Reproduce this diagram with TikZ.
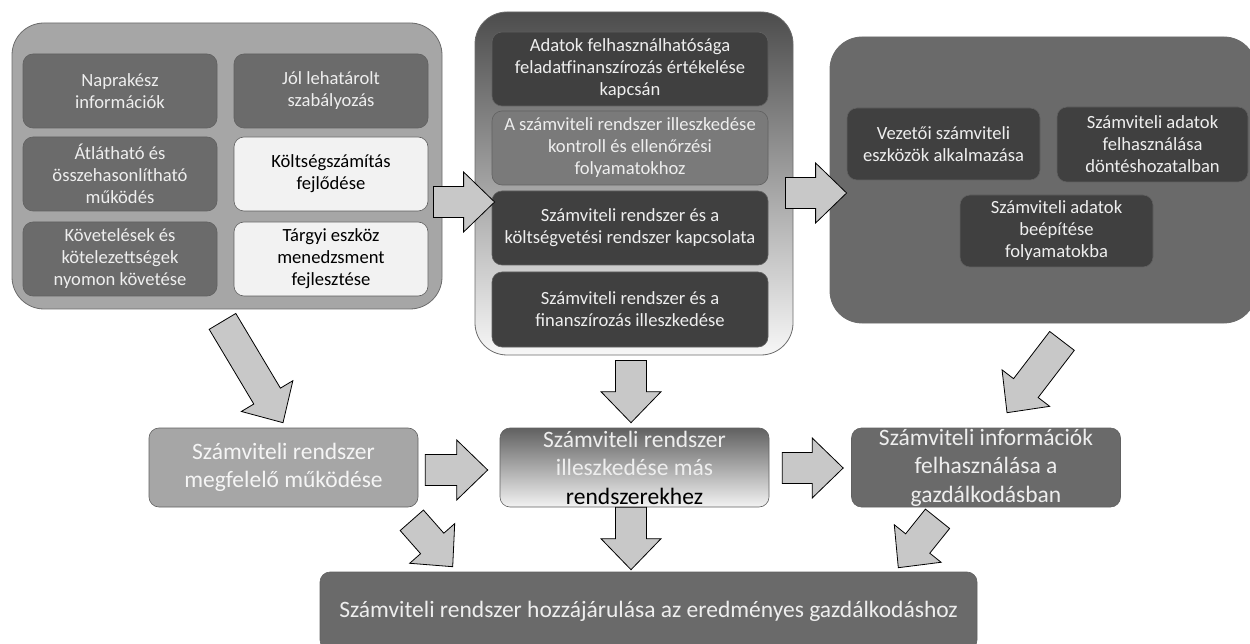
\documentclass[tikz,border=0pt]{standalone}
\usepackage{fontspec}
\setmainfont{Carlito}
\usetikzlibrary{calc}
\definecolor{grpLight}{HTML}{A6A6A6}
\definecolor{grpDark}{HTML}{6A6A6A}
\definecolor{boxMid}{HTML}{6B6B6B}
\definecolor{boxDark}{HTML}{404040}
\definecolor{boxGrey}{HTML}{7A7A7A}
\definecolor{boxPale}{HTML}{F2F2F2}
\definecolor{txtLight}{HTML}{EEEEEE}
\definecolor{arrFill}{HTML}{C8C8C8}
% vastag blokknyil: farok -> hegy
\newcommand{\bigarrow}[2]{%
  \draw[bigarr] let \p1=(#1), \p2=(#2), \p3=($(\p2)!31pt!(\p1)$) in
    ($(\p1)!15.5pt!90:(\p2)$) -- ($(\p3)!15.5pt!90:(\p2)$) -- ($(\p3)!30pt!90:(\p2)$)
    -- (\p2) -- ($(\p3)!30pt!-90:(\p2)$) -- ($(\p3)!15.5pt!-90:(\p2)$)
    -- ($(\p1)!15.5pt!-90:(\p2)$) -- cycle;}
\begin{document}
\begin{tikzpicture}[x=1pt, y=-1pt,
  grp/.style={draw=black!58, line width=0.8pt, rounded corners=32pt, inner sep=0pt},
  box/.style={draw=black!62, line width=0.6pt, rounded corners=10pt, inner sep=0pt,
    minimum width=194pt, minimum height=74pt, align=center, text=txtLight,
    font=\fontsize{18.6}{22}\selectfont},
  rowbox/.style={box, minimum width=269pt, minimum height=79pt,
    font=\fontsize{23.5}{28.5}\selectfont},
  bigarr/.style={draw=black, line width=0.8pt, fill=arrFill, line join=miter}]
\useasboundingbox (0,0) rectangle (1250,644);
% felso csoportok
\node[grp, fill=grpLight, minimum width=430pt, minimum height=286pt] (grpL) at (227,166) {};
\node[grp, top color=black!70, bottom color=white!97!black, minimum width=318pt, minimum height=343pt] (grpM) at (634,183.5) {};
\node[grp, fill=grpDark, minimum width=426pt, minimum height=286pt] (grpR) at (1043,180) {};
% bal csoport
\node[box, fill=boxMid] (napra) at (120,91) {Naprakész\\információk};
\node[box, fill=boxMid] (jol) at (331,91) {Jól lehatárolt\\szabályozás};
\node[box, fill=boxMid] (atlat) at (120,174) {Átlátható és\\összehasonlítható\\működés};
\node[box, fill=boxPale, text=black] (kolt) at (331,174) {Költségszámítás\\fejlődése};
\node[box, fill=boxMid] (kovet) at (120,259) {Követelések és\\kötelezettségek\\nyomon követése};
\node[box, fill=boxPale, text=black] (targy) at (331,259) {Tárgyi eszköz\\menedzsment\\fejlesztése};
% kozepso csoport
\node[box, fill=boxDark, minimum width=276pt] (adat) at (630,69) {Adatok felhasználhatósága\\feladatfinanszírozás értékelése\\kapcsán};
\node[box, fill=boxGrey, minimum width=276pt] (kontr) at (630,148) {A számviteli rendszer illeszkedése\\kontroll és ellenőrzési\\folyamatokhoz};
\node[box, fill=boxDark, minimum width=276pt] (koltv) at (630,228) {Számviteli rendszer és a\\költségvetési rendszer kapcsolata};
\node[box, fill=boxDark, minimum width=276pt, minimum height=75pt] (finan) at (630,309.5) {Számviteli rendszer és a\\finanszírozás illeszkedése};
% jobb csoport
\node[box, fill=boxDark, minimum width=193pt, minimum height=72pt] (vezet) at (943.5,144) {Vezetői számviteli\\eszközök alkalmazása};
\node[box, fill=boxDark, minimum width=191pt, minimum height=75pt] (dont) at (1152.5,144.5) {Számviteli adatok\\felhasználása\\döntéshozatalban};
\node[box, fill=boxDark, minimum width=193pt, minimum height=72pt] (beep) at (1056.5,231) {Számviteli adatok\\beépítése\\folyamatokba};
% also sor
\node[rowbox, fill=grpLight, text=white!96!black] (rowA) at (283.5,467.5) {Számviteli rendszer\\megfelelő működése};
\node[rowbox, top color=black!62, bottom color=white!95!black] (rowB) at (634.5,467.5) {Számviteli rendszer\\illeszkedése más\\{\color{black}rendszerekhez}};
\node[rowbox, fill=grpDark] (rowC) at (986,467.5) {Számviteli információk\\felhasználása a\\gazdálkodásban};
\node[rowbox, fill=grpDark, minimum width=657pt, minimum height=78pt] (total) at (648.5,611) {Számviteli rendszer hozzájárulása az eredményes gazdálkodáshoz};
% nyilak
\bigarrow{[shift={(-9,36)}]grpL.east}{[shift={(20,18.5)}]grpM.west}
\bigarrow{[shift={(-8,9.5)}]grpM.east}{[shift={(17,13)}]grpR.west}
\bigarrow{[shift={(-4.5,12)}]grpL.south}{[shift={(-0.5,-5)}]rowA.north}
\bigarrow{[shift={(-3,5)}]grpM.south}{[shift={(-3.5,-5)}]rowB.north}
\bigarrow{[shift={(19,17.5)}]grpR.south}{[shift={(21,-15)}]rowC.north}
\bigarrow{[shift={(7,2.5)}]rowA.east}{[shift={(-12,2.5)}]rowB.west}
\bigarrow{[shift={(13,0.5)}]rowB.east}{[shift={(-8,0.5)}]rowC.west}
\bigarrow{[shift={(-6.5,13)}]rowA.south east}{[shift={(133,-5)}]total.north west}
\bigarrow{[shift={(-3.5,0)}]rowB.south}{[shift={(-17.5,-2)}]total.north}
\bigarrow{[shift={(-48.5,11.5)}]rowC.south}{[shift={(-79,-4)}]total.north east}
\end{tikzpicture}
\end{document}
